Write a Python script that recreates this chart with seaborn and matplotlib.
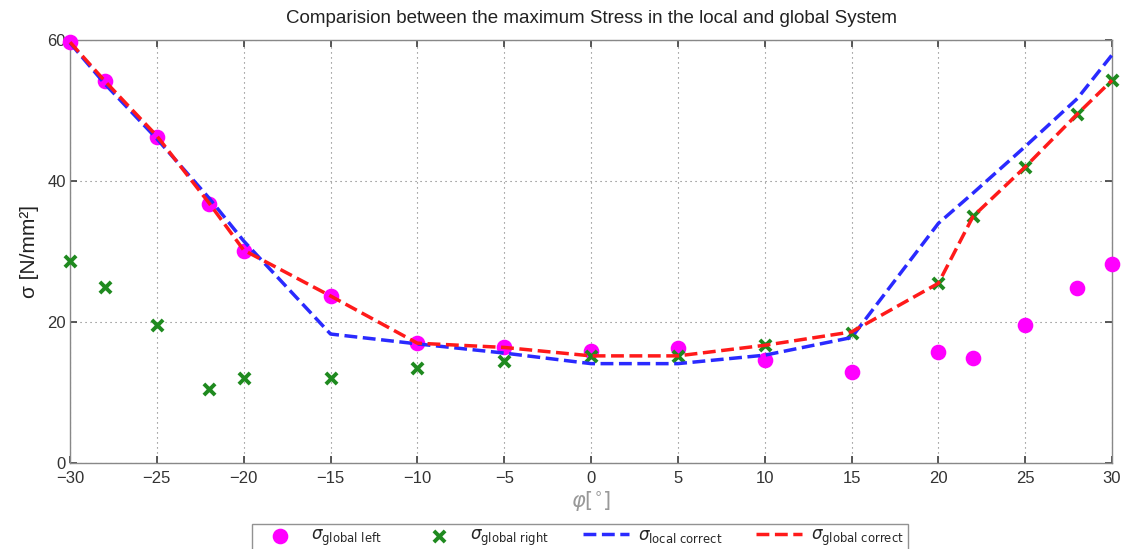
import numpy as np
import pandas as pd
import matplotlib
matplotlib.use("Agg")
import matplotlib.pyplot as plt
import seaborn as sns

phi = [-30, -28, -25, -22, -20, -15, -10, -5, 0, 5, 10, 15, 20, 22, 25, 28, 30]
sigma_global_left = [59.7, 54.2, 46.2, 36.7, 30.1, 23.7, 17.0, 16.5, 15.9, 16.3, 14.6, 12.9, 15.7, 14.9, 19.6, 24.8, 28.2]
sigma_global_right = [28.7, 25.0, 19.6, 10.5, 12.1, 12.1, 13.5, 14.5, 15.2, 15.2, 16.7, 18.4, 25.5, 35.0, 42.0, 49.5, 54.3]
sigma_local_correct = [59.6, 53.8, 46.0, 37.6, 31.5, 18.3, 16.9, 15.6, 14.1, 14.1, 15.3, 17.8, 34.0, 38.3, 44.9, 51.7, 57.9]
sigma_global_correct = [59.7, 54.2, 46.4, 36.9, 30.2, 23.7, 17.0, 16.4, 15.2, 15.2, 16.7, 18.6, 25.5, 35.0, 42.0, 49.5, 54.3]

sns.set_theme(style="white")
plt.rcParams['font.family'] = ['Liberation Sans', 'DejaVu Sans']
plt.rcParams['mathtext.fontset'] = 'dejavusans'

df = pd.DataFrame({
    "phi": phi,
    "left": sigma_global_left,
    "right": sigma_global_right,
    "local": sigma_local_correct,
    "glob": sigma_global_correct,
})

fig = plt.figure(figsize=(11.26, 5.49), dpi=100)
ax = fig.add_axes([0.0622, 0.1566, 0.9254, 0.7704])

sns.scatterplot(data=df, x="phi", y="left", ax=ax, color="#ff00ff", marker="o", s=95,
                edgecolor="#ff00ff", linewidth=1.5, zorder=3, clip_on=False,
                label=r"$\sigma_{\mathrm{global\ left}}$")
sns.scatterplot(data=df, x="phi", y="right", ax=ax, color="#1f8a1f", marker="x", s=65,
                linewidth=2.8, zorder=4, clip_on=False, label=r"$\sigma_{\mathrm{global\ right}}$")
sns.lineplot(data=df, x="phi", y="local", ax=ax, color="#2a2aff", linestyle="--", dashes=(3.2, 1.9),
             linewidth=2.5, sort=False, zorder=5, clip_on=False, label=r"$\sigma_{\mathrm{local\ correct}}$")
sns.lineplot(data=df, x="phi", y="glob", ax=ax, color="#ff1a1a", linestyle="--", dashes=(3.2, 1.9),
             linewidth=2.5, sort=False, zorder=6, clip_on=False, label=r"$\sigma_{\mathrm{global\ correct}}$")

ax.set_xlim(-30, 30)
ax.set_ylim(0, 60)
ax.set_xticks([-30, -25, -20, -15, -10, -5, 0, 5, 10, 15, 20, 25, 30])
ax.set_yticks([0, 20, 40, 60])
ax.grid(True, linestyle=(0, (1, 3.5)), color="#777777", linewidth=0.8)
ax.tick_params(axis="both", direction="in", length=5, labelsize=12, colors="#444444",
               labelcolor="#333333", pad=3, bottom=True, left=True, top=True, right=True)
ax.tick_params(axis="x", pad=6)
for sp in ax.spines.values():
    sp.set_color("#888888")
    sp.set_linewidth(1.0)

ax.set_title("Comparision between the maximum Stress in the local and global System",
             fontsize=13.5, color="#222222", pad=12)
ax.set_xlabel(r"$\varphi[^{\circ}]$", fontsize=15, color="#999999", labelpad=2)
ax.set_ylabel("σ [N/mm²]", fontsize=15, color="#222222", labelpad=6)

handles, labels = ax.get_legend_handles_labels()
leg = fig.legend(handles, labels, loc="upper center", bbox_to_anchor=(0.515, 0.046), ncol=4,
                 fontsize=12, frameon=True, fancybox=False, edgecolor="#777777",
                 handlelength=2.8, handletextpad=0.5, columnspacing=2.0, borderpad=0.25,
                 borderaxespad=0.0)
leg.get_frame().set_linewidth(1.0)
if ax.get_legend() is not None:
    ax.get_legend().remove()

fig.savefig("out.png", dpi=100)
